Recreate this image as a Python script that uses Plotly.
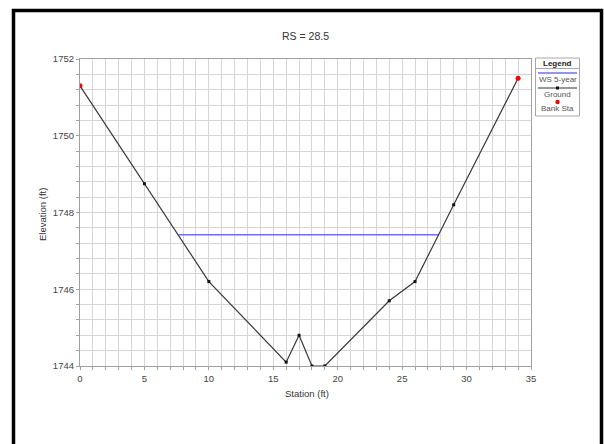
import plotly.graph_objects as go

# ---- data ----
ground_sta = [0, 5, 10, 16, 17, 18, 19, 24, 26, 29, 34]
ground_elev = [1751.3, 1748.75, 1746.2, 1744.1, 1744.8, 1744.0, 1744.0, 1745.7, 1746.2, 1748.2, 1751.5]
bank_sta = [0, 34]
bank_elev = [1751.3, 1751.5]
ws_sta = [7.65, 27.83]
ws_elev = [1747.42, 1747.42]

title_text = "RS = 28.5"
x_title = "Station (ft)"
y_title = "Elevation (ft)"
legend_title = "Legend"
legend_names = ["WS 5-year", "Ground", "Bank Sta"]

W, H = 604, 444
L, R, T, B = 80, 531, 59, 366  # plot area pixel bounds in the page


def px(x):
    return (x - L) / (R - L)


def py(y):
    return (B - y) / (B - T)


FONT = "Liberation Sans, Arial, sans-serif"
fig = go.Figure()

fig.add_trace(go.Scatter(x=ws_sta, y=ws_elev, mode="lines",
                         line=dict(color="#7070f0", width=1.3),
                         name=legend_names[0], hoverinfo="skip"))
fig.add_trace(go.Scatter(x=ground_sta, y=ground_elev, mode="lines+markers",
                         line=dict(color="#3a3a3a", width=1.2),
                         marker=dict(color="#111111", size=3, symbol="square"),
                         name=legend_names[1]))
fig.add_trace(go.Scatter(x=bank_sta, y=bank_elev, mode="markers",
                         marker=dict(color="#ff0000", size=5),
                         name=legend_names[2]))

shapes = []
# outer black frame
shapes.append(dict(type="rect", xref="paper", yref="paper",
                   x0=px(13.5), x1=px(601.5), y0=py(480), y1=py(10.5),
                   line=dict(color="black", width=3.5), layer="below"))
# legend box
lx0, lx1 = px(535.5), px(579.5)
shapes.append(dict(type="rect", xref="paper", yref="paper",
                   x0=lx0, x1=lx1, y0=py(116), y1=py(58),
                   line=dict(color="#a8a8a8", width=1)))
shapes.append(dict(type="line", xref="paper", yref="paper",
                   x0=lx0, x1=lx1, y0=py(68.5), y1=py(68.5),
                   line=dict(color="#a8a8a8", width=1)))
# legend samples
shapes.append(dict(type="line", xref="paper", yref="paper",
                   x0=px(538), x1=px(577), y0=py(73), y1=py(73),
                   line=dict(color="#7070f0", width=1.3)))
shapes.append(dict(type="line", xref="paper", yref="paper",
                   x0=px(538), x1=px(577), y0=py(88), y1=py(88),
                   line=dict(color="#333333", width=1.2)))
shapes.append(dict(type="rect", xref="paper", yref="paper",
                   x0=px(556), x1=px(559), y0=py(89.5), y1=py(86.5),
                   fillcolor="#111111", line=dict(width=0)))
shapes.append(dict(type="circle", xref="paper", yref="paper",
                   x0=px(555.3), x1=px(559.7), y0=py(104.2), y1=py(99.8),
                   fillcolor="#ff0000", line=dict(width=0)))

ann = []


def add_text(text, x, y, size, color, angle=0):
    ann.append(dict(text=text, x=px(x), y=py(y), xref="paper", yref="paper",
                    xanchor="center", yanchor="middle", showarrow=False,
                    textangle=angle, font=dict(size=size, color=color, family=FONT)))


add_text(title_text, 305, 36, 10.5, "#333333")
add_text(x_title, 307, 393, 9.5, "#333333")
add_text(y_title, 42, 215, 9.5, "#333333", angle=-90)
add_text("<b>" + legend_title + "</b>", 557.5, 63, 8, "#222222")
for name, yy in zip(legend_names, [79, 94, 109]):
    add_text(name, 557.5, yy, 8, "#555555")

grid_c = "#d6d6d6"
fig.update_layout(
    width=W, height=H,
    margin=dict(l=L, r=W - R, t=T, b=H - B, pad=0),
    paper_bgcolor="white", plot_bgcolor="white",
    showlegend=False,
    shapes=shapes, annotations=ann,
    font=dict(family=FONT, size=10, color="#444444"),
    xaxis=dict(range=[0, 35], dtick=5, tick0=0, showgrid=True, gridcolor=grid_c,
               gridwidth=1, zeroline=False, showline=True, linecolor="#a0a0a0",
               linewidth=1.2, mirror=True, ticks="outside", ticklen=3,
               tickcolor="#a0a0a0",
               minor=dict(dtick=1, showgrid=True, gridcolor=grid_c, gridwidth=1,
                          ticks="outside", ticklen=3, tickcolor="#a0a0a0"),
               tickfont=dict(size=9.5, color="#444444")),
    yaxis=dict(range=[1744, 1752], dtick=2, tick0=1744, showgrid=True,
               gridcolor=grid_c, gridwidth=1, zeroline=False, showline=True,
               linecolor="#a0a0a0", linewidth=1.2, mirror=True, ticks="outside",
               ticklen=3, tickcolor="#a0a0a0",
               minor=dict(dtick=0.4, showgrid=True, gridcolor=grid_c, gridwidth=1,
                          ticks="outside", ticklen=3, tickcolor="#a0a0a0"),
               tickfont=dict(size=9.5, color="#444444")),
)

fig.write_html("out.html",
               config={"displayModeBar": False},
               post_script="document.body.style.margin='0';"
                           "document.body.style.overflow='hidden';")
